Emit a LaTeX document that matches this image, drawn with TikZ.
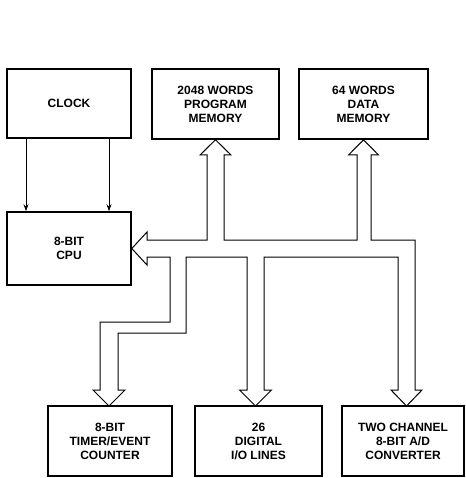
\documentclass[tikz,border=0pt]{standalone}
\usepackage{fontspec}
\setmainfont{Liberation Sans}
\usetikzlibrary{arrows.meta}
\begin{document}
\begin{tikzpicture}[x=1pt,y=-1pt,
  blk/.style={draw=black, line width=1.6pt, fill=white, inner sep=0pt,
    align=center, font=\fontsize{12}{14}\selectfont\bfseries},
  thinarrow/.style={draw=black, line width=0.8pt, -{Stealth[length=7pt,width=5pt]}},
  busline/.style={draw=black, line width=1pt, line join=miter}]
\useasboundingbox (0,0) rectangle (465,478);
% blocks
\node[blk, minimum width=124pt, minimum height=69pt] (clock) at (69,103.5) {CLOCK};
\node[blk, minimum width=124pt, minimum height=73pt] (cpu) at (69,248.5) {8-BIT\\CPU};
\node[blk, minimum width=127pt, minimum height=70pt] (pmem) at (215.5,104) {2048 WORDS\\PROGRAM\\MEMORY};
\node[blk, minimum width=129pt, minimum height=70pt] (dmem) at (363.5,104) {64 WORDS\\DATA\\MEMORY};
\node[blk, minimum width=124pt, minimum height=70pt] (timer) at (110,441) {8-BIT\\TIMER/EVENT\\COUNTER};
\node[blk, minimum width=127pt, minimum height=70pt] (dio) at (258.5,441) {26\\DIGITAL\\I/O LINES};
\node[blk, minimum width=122pt, minimum height=70pt] (adc) at (403,441) {TWO CHANNEL\\8-BIT A/D\\CONVERTER};
% clock lines
\draw[thinarrow] ([xshift=-43pt]clock.south) -- ([xshift=-43pt]cpu.north);
\draw[thinarrow] ([xshift=40pt]clock.south) -- ([xshift=40pt]cpu.north);
% bus
\draw[busline] (cpu.east) -- (147,232) -- (147,240) -- (207,240) -- (207,155) -- (200,155)
  -- (pmem.south) -- (231,155) -- (224,155) -- (224,240) -- (357,240) -- (357,155)
  -- (348.5,155) -- (dmem.south) -- (378.5,155) -- (371,155) -- (371,240)
  -- (415,240) -- (415,390) -- (422,390) -- (406.5,406) -- (391,390) -- (398,390)
  -- (398,257) -- (264,257) -- (264,390) -- (271.5,390) -- (255.5,406) -- (239.5,390)
  -- (247,390) -- (247,257) -- (186,257) -- (186,333) -- (118,333) -- (118,390)
  -- (125,390) -- (109,406) -- (93,390) -- (100,390) -- (100,322) -- (170,322)
  -- (170,257) -- (147,257) -- (147,265) -- cycle;
\end{tikzpicture}
\end{document}
